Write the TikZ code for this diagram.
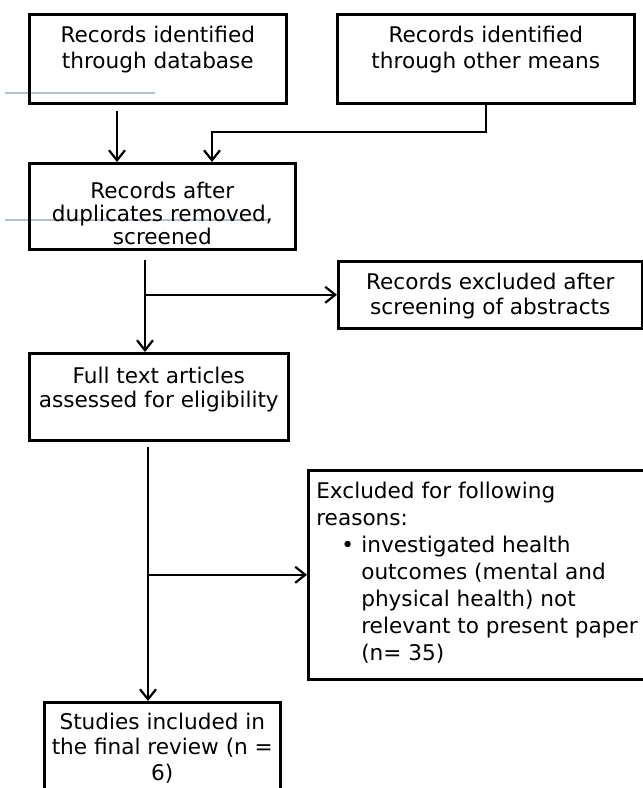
\documentclass[tikz,border=0pt]{standalone}
\usepackage{fontspec}
\setmainfont{DejaVu Sans}
\usetikzlibrary{arrows.meta}
\definecolor{faded}{RGB}{175,195,215}
% box text: width, height, first baseline, text
\newcommand{\boxtxt}[4]{\parbox[c][#2][t]{#1}{\centering\rule{0pt}{#3}#4}}
\tikzset{
  bx/.style = {rectangle, draw=black, line width=2.6pt, inner sep=0pt,
    anchor=north west, font=\fontsize{21.6}{26}\selectfont},% plain box
  ln/.style = {line width=2.2pt},% connector
  fd/.style = {draw=faded, line width=1.3pt}% stray guide line
}

\begin{document}
\begin{tikzpicture}[x=1pt,y=-1pt,>={Straight Barb[length=10pt,width=16pt]}]
\clip (0,0) rectangle (643,788);
\fill[white] (0,0) rectangle (643,788);
\draw[fd] (5,93) -- (155,93);
\draw[fd] (5,220) -- (270,220);

\node[bx] (db) at (28,13)
  {\boxtxt{257pt}{89pt}{28pt}{Records identified\\through database}};
\node[bx] (other) at (336,13)
  {\boxtxt{297pt}{89pt}{28pt}{Records identified\\through other means}};
\node[bx] (dup) at (28,162)
  {\boxtxt{266pt}{86pt}{35pt}{\baselineskip=23pt
    Records after\\duplicates removed,\\screened}};
\node[bx] (abs) at (337,260)
  {\boxtxt{304pt}{67pt}{28pt}{\baselineskip=25pt
    Records excluded after\\screening of abstracts}};
\node[bx] (full) at (28,352)
  {\boxtxt{259pt}{87pt}{30pt}{\baselineskip=24pt
    Full text articles\\assessed for eligibility}};
\node[bx] (excl) at (307,469)
  {\parbox[c][209pt][t]{350pt}{\raggedright\leftskip=8pt\baselineskip=27pt
    \rule{0pt}{28pt}%
    Excluded for following\\
    reasons:\\
    \hspace*{25pt}\makebox[20pt][l]{•}investigated health\\
    \hspace*{45pt}outcomes (mental and\\
    \hspace*{45pt}physical health) not\\
    \hspace*{45pt}relevant to present paper\\
    \hspace*{45pt}(n= 35)}};
\node[bx] (final) at (43,701)
  {\boxtxt{236pt}{110pt}{27pt}{\baselineskip=25.5pt
    Studies included in\\the final review (n =\\6)}};

\coordinate (a1) at (117,111);
\coordinate (m2) at (212,132);
\coordinate (a3) at (145,260);
\coordinate (a5) at (148,447);

\draw[ln,->] (a1) -- (a1 |- dup.north);
\draw[ln,->] (other.south) |- (m2) -- (m2 |- dup.north);
\draw[ln,->] (a3) -- (a3 |- full.north);
\draw[ln,->] (a3 |- abs.west) -- (abs.west);
\draw[ln,->] (a5) -- (a5 |- final.north);
\draw[ln,->] (a5 |- excl.west) -- (excl.west);
\end{tikzpicture}
\end{document}
